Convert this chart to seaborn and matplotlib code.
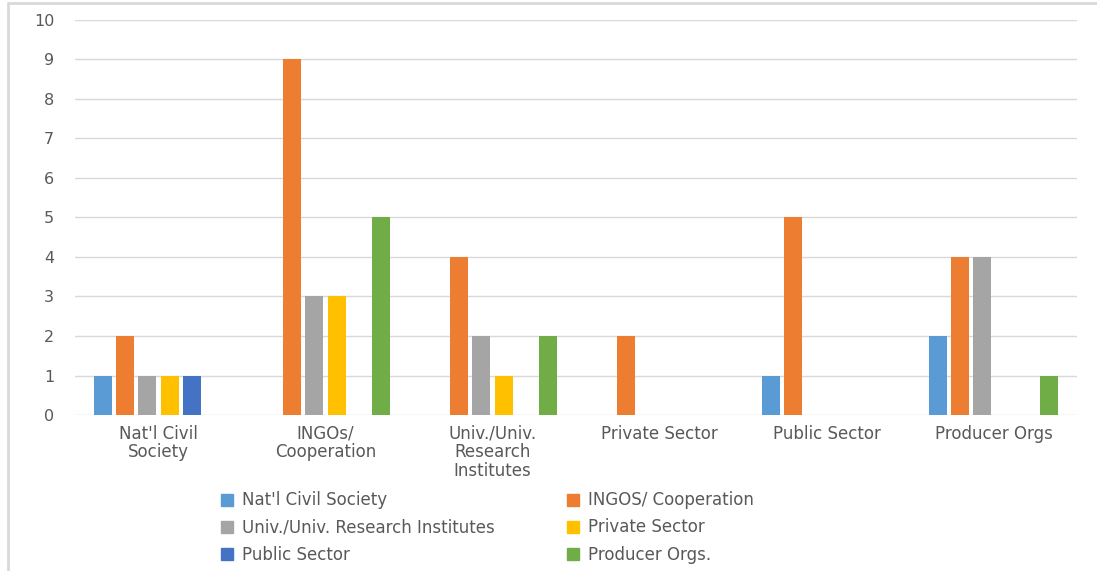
import matplotlib
matplotlib.use("Agg")
import matplotlib.pyplot as plt
import seaborn as sns
import pandas as pd
from matplotlib.lines import Line2D

# Sector groups shown along the x axis
categories = ["Nat'l Civil\nSociety", "INGOs/\nCooperation", "Univ./Univ.\nResearch\nInstitutes",
              "Private Sector", "Public Sector", "Producer Orgs"]

# Series (partner types) and their counts per sector
series = ["Nat'l Civil Society", "INGOS/ Cooperation", "Univ./Univ. Research Institutes",
          "Private Sector", "Public Sector", "Producer Orgs."]
civil_society = [1, 0, 0, 0, 1, 2]
ingos = [2, 9, 4, 2, 5, 4]
universities = [1, 3, 2, 0, 0, 4]
private_sector = [1, 3, 1, 0, 0, 0]
public_sector = [1, 0, 0, 0, 0, 0]
producer_orgs = [0, 5, 2, 0, 0, 1]

colors = ["#5B9BD5", "#ED7D31", "#A5A5A5", "#FFC000", "#4472C4", "#70AD47"]
yticks = list(range(0, 11))

values = [civil_society, ingos, universities, private_sector, public_sector, producer_orgs]
rows = []
for name, vals in zip(series, values):
    for cat, v in zip(categories, vals):
        rows.append({"sector": cat, "series": name, "count": v})
df = pd.DataFrame(rows)

sns.set_style("white")
plt.rcParams["font.family"] = ["DejaVu Sans"]
text_color = "#595959"

fig = plt.figure(figsize=(10.97, 5.71), dpi=100)
ax = fig.add_axes([0.0684, 0.2732, 0.9134, 0.6918])

sns.barplot(data=df, x="sector", y="count", hue="series", order=categories,
            hue_order=series, palette=colors, width=0.8, gap=0.2,
            linewidth=0, saturation=1, ax=ax, legend=False)

ax.set_ylim(0, 10)
ax.set_yticks(yticks)
ax.set_xlim(-0.5, len(categories) - 0.5)
ax.grid(axis="y", color="#D9D9D9", linewidth=1)
ax.set_axisbelow(True)
for s in ax.spines.values():
    s.set_visible(False)
ax.set_xlabel("")
ax.set_ylabel("")
ax.tick_params(axis="y", length=0, pad=15, labelsize=11.5, labelcolor=text_color)
ax.tick_params(axis="x", length=0, pad=7, labelsize=12, labelcolor=text_color)
for lbl in ax.get_xticklabels():
    lbl.set_linespacing(1.05)

# Legend reads row by row: reorder for matplotlib's column-first fill
handles = [Line2D([], [], marker="s", linestyle="none", markersize=8.5,
                  markerfacecolor=c, markeredgecolor=c) for c in colors]
order = [0, 2, 4, 1, 3, 5]
fig.legend([handles[i] for i in order], [series[i] for i in order], ncol=2,
           loc="upper left", bbox_to_anchor=(212 / 1097, 1 - 483 / 571), frameon=False,
           fontsize=12, labelcolor=text_color, handlelength=0.8,
           handletextpad=0.5, columnspacing=4.3, labelspacing=0.55,
           borderpad=0)

# Chart frame edges (left and top)
fig.add_artist(Line2D([8 / 1097, 8 / 1097], [0, 1 - 3 / 571], color="#D9D9D9", linewidth=2,
                      transform=fig.transFigure))
fig.add_artist(Line2D([8 / 1097, 1], [1 - 3 / 571, 1 - 3 / 571], color="#D9D9D9", linewidth=2,
                      transform=fig.transFigure))

fig.savefig("out.png", dpi=100)
